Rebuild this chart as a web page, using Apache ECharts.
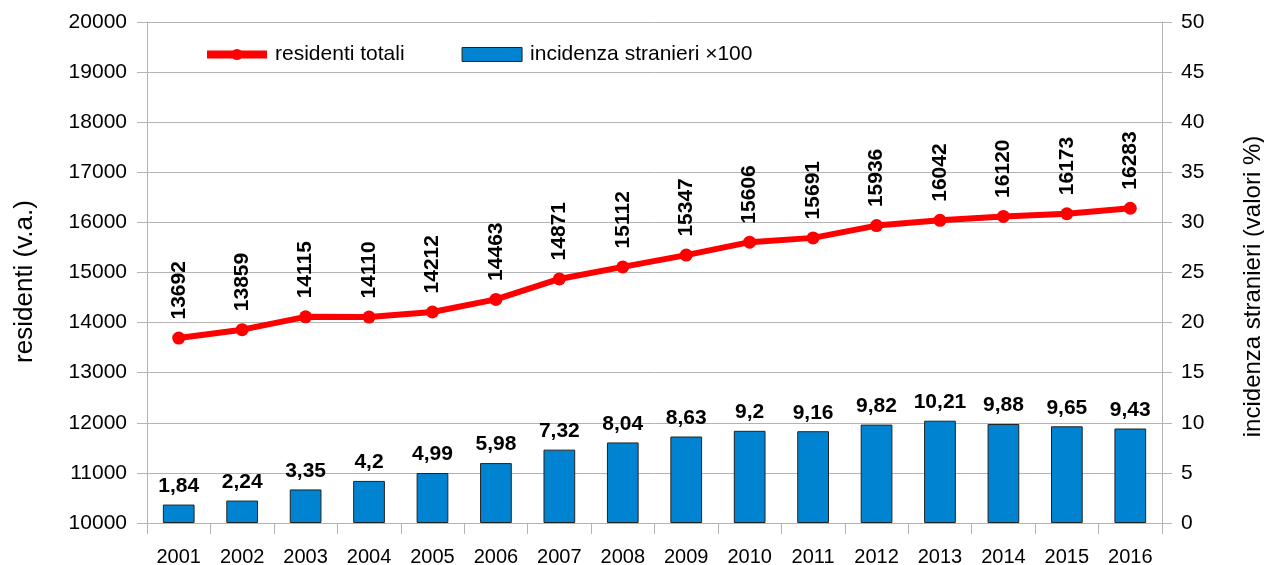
<!DOCTYPE html>
<html>
<head>
<meta charset="utf-8">
<script src="https://cdn.jsdelivr.net/npm/echarts@6/dist/echarts.min.js"></script>
<style>
  html, body { margin: 0; padding: 0; background: #fff; }
  #main { width: 1264px; height: 565px; }
</style>
</head>
<body>
<div id="main"></div>
<script>
// dati
var anni = ['2001', '2002', '2003', '2004', '2005', '2006', '2007', '2008',
            '2009', '2010', '2011', '2012', '2013', '2014', '2015', '2016'];
var residenti = [13692, 13859, 14115, 14110, 14212, 14463, 14871, 15112,
                 15347, 15606, 15691, 15936, 16042, 16120, 16173, 16283];
var incidenza = [1.84, 2.24, 3.35, 4.2, 4.99, 5.98, 7.32, 8.04,
                 8.63, 9.2, 9.16, 9.82, 10.21, 9.88, 9.65, 9.43];

var FONT = 'Liberation Sans, Arial, sans-serif';
var GRID_COL = '#b3b3b3';

var chart = echarts.init(document.getElementById('main'));

function virgola(v) {
    return String(v).replace('.', ',');
}

var option = {
    animation: false,
    textStyle: { fontFamily: FONT },
    legend: {
        top: 39,
        left: 198,
        itemWidth: 60,
        itemHeight: 14,
        itemGap: 57,
        textStyle: { fontSize: 21, color: '#000', fontFamily: FONT, padding: [0, 0, 0, 3] },
        data: [{
            name: 'residenti totali',
            lineStyle: { width: 8, color: '#ff0000' },
            itemStyle: { color: '#ff0000' }
        }, {
            name: 'incidenza stranieri \u00d7100',
            icon: 'rect',
            itemStyle: { color: '#0084d1', borderColor: '#222', borderWidth: 1 }
        }]
    },
    grid: { left: 147, right: 102, top: 22, bottom: 42, outerBoundsMode: 'none' },
    xAxis: {
        type: 'category',
        data: anni,
        boundaryGap: true,
        axisLine: { lineStyle: { color: GRID_COL } },
        axisTick: { show: true, length: 11, lineStyle: { color: GRID_COL } },
        axisLabel: { color: '#000', fontSize: 20, margin: 24, fontFamily: FONT }
    },
    yAxis: [{
        type: 'value',
        min: 10000,
        max: 20000,
        interval: 1000,
        name: 'residenti (v.a.)',
        nameLocation: 'middle',
        nameGap: 109,
        nameRotate: 90,
        nameTextStyle: { fontSize: 26, color: '#000', fontFamily: FONT, padding: [0, 18, 0, 0] },
        axisLine: { show: true, lineStyle: { color: GRID_COL } },
        axisTick: { show: true, length: 10, lineStyle: { color: GRID_COL } },
        axisLabel: {
            color: '#000', fontSize: 21, margin: 20, fontFamily: FONT,
            formatter: function (v) { return String(v); }
        },
        splitLine: { lineStyle: { color: GRID_COL } }
    }, {
        type: 'value',
        min: 0,
        max: 50,
        interval: 5,
        name: 'incidenza stranieri (valori %)',
        nameLocation: 'middle',
        nameGap: 79,
        nameRotate: 90,
        nameTextStyle: { fontSize: 24, color: '#000', fontFamily: FONT, padding: [0, 28, 0, 0] },
        axisLine: { show: true, lineStyle: { color: GRID_COL } },
        axisTick: { show: true, length: 10, lineStyle: { color: GRID_COL } },
        axisLabel: { color: '#000', fontSize: 21, margin: 19, fontFamily: FONT },
        splitLine: { show: false }
    }],
    series: [{
        name: 'incidenza stranieri \u00d7100',
        type: 'bar',
        yAxisIndex: 1,
        data: incidenza,
        barWidth: '50%',
        itemStyle: { color: '#0084d1', borderColor: '#222', borderWidth: 1 },
        label: {
            show: true,
            position: 'top',
            distance: 8,
            fontSize: 21,
            fontWeight: 'bold',
            color: '#000',
            fontFamily: FONT,
            formatter: function (p) { return virgola(p.value); }
        },
        z: 2
    }, {
        name: 'residenti totali',
        type: 'line',
        yAxisIndex: 0,
        data: residenti,
        symbol: 'circle',
        symbolSize: 13,
        lineStyle: { color: '#ff0000', width: 6 },
        itemStyle: { color: '#ff0000' },
        label: {
            show: true,
            position: 'top',
            distance: 12,
            rotate: 90,
            align: 'left',
            verticalAlign: 'middle',
            fontSize: 21,
            fontWeight: 'bold',
            color: '#000',
            fontFamily: FONT
        },
        z: 5
    }]
};

chart.setOption(option);
</script>
</body>
</html>
